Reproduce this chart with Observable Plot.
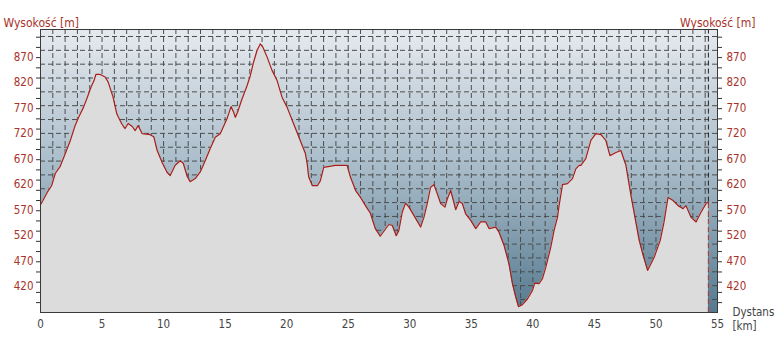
<!DOCTYPE html>
<html>
<head>
<meta charset="utf-8">
<script src="https://cdn.jsdelivr.net/npm/d3@7"></script>
<script src="https://cdn.jsdelivr.net/npm/@observablehq/plot@0.6"></script>
<style>
  html, body { margin: 0; padding: 0; background: #fff; }
</style>
</head>
<body>
<div id="chart"></div>
<script>
// Distance along the route [km]
const distanceKm = [
  0,0.2,0.6,0.9,1.2,1.6,2.0,2.4,2.8,3.1,
  3.5,3.8,4.1,4.35,4.5,4.85,5.25,5.5,5.9,6.2,
  6.33,6.63,6.87,7.12,7.45,7.69,7.93,8.26,8.9,9.2,
  9.48,9.89,10.29,10.54,10.94,11.35,11.6,11.92,12.16,12.57,
  12.98,13.38,13.79,14.2,14.6,15.15,15.48,15.69,15.83,16.01,
  16.37,16.78,17.05,17.31,17.59,17.86,18.08,18.41,18.81,19.22,
  19.63,20.03,20.57,21.11,21.52,21.66,21.79,22.09,22.5,22.74,
  23.01,23.96,24.91,25.18,25.59,26.0,26.4,26.8,27.2,27.6,
  28.3,28.58,28.9,29.11,29.39,29.66,29.93,30.33,30.88,31.15,
  31.42,31.69,31.96,32.24,32.51,32.86,33.05,33.32,33.54,33.73,
  34.0,34.27,34.54,34.95,35.36,35.76,36.17,36.44,36.98,37.25,
  37.66,38.06,38.34,38.61,38.83,39.15,39.56,39.97,40.15,40.5,
  40.78,41.05,41.46,41.72,42.0,42.13,42.41,42.81,43.22,43.49,
  43.76,43.9,44.3,44.71,45.12,45.53,45.93,46.26,46.75,47.15,
  47.56,47.97,48.37,48.64,48.92,49.32,49.86,50.35,50.65,50.98,
  51.39,51.8,52.2,52.44,52.85,53.26,53.66,54.07,54.26
];
// Elevation [m]
const elevationM = [
  581,589,607,618,642,656,680,705,735,752,
  772,791,811,824,836,836,831,821,791,759,
  752,738,730,740,734,726,736,720,718,714,
  687,663,644,638,658,667,662,636,626,632,
  645,667,691,713,720,749,773,762,752,762,
  788,814,834,860,883,896,889,870,844,824,
  791,772,739,706,681,662,635,618,618,628,
  654,658,658,635,609,595,579,564,534,519,
  542,540,520,530,566,584,576,560,537,556,
  583,615,620,602,583,576,592,609,589,571,
  587,583,563,550,534,547,547,534,537,527,
  501,465,426,400,381,385,396,413,427,426,
  436,458,498,530,556,579,620,622,632,651,
  658,658,671,707,720,718,707,677,683,687,
  658,599,546,511,485,452,478,511,546,595,
  589,579,573,579,556,547,566,583,586
];

// Axis content
const xLabels = [0,5,10,15,20,25,30,35,40,45,50,55];
const yLabels = [420,470,520,570,620,670,720,770,820,870];
const yTicks = d3.range(389, 925, 20);
const gridX = d3.range(1, 55, 1);
const gridY = d3.range(0, 20).map(k => 910.4 - 27.12 * k);
const yDomain = [369.6, 924.1];
const axisTitle = "Wysokość [m]";
const distTitle = ["Dystans", "[km]"];

const profile = distanceKm.map((km, i) => ({km, m: elevationM[i]}));
const endPoint = profile[profile.length - 1];

const labelRed = "#a8322a";
const textGray = "#444";
const font = "'DejaVu Sans Condensed', 'DejaVu Sans', sans-serif";

const svg = Plot.plot({
  width: 776,
  height: 338,
  marginLeft: 40,
  marginRight: 59,
  marginTop: 29,
  marginBottom: 26,
  style: {fontFamily: font, fontSize: "11px", color: "#333", background: "#fff", overflow: "visible"},
  x: {domain: [0, 55], axis: null},
  y: {domain: yDomain, axis: "both", ticks: yTicks, tickFormat: () => "", tickSize: 4, label: null},
  marks: [
    Plot.frame({fill: "url(#bgGrad)"}),
    Plot.ruleY(gridY, {stroke: "#4d4d4d", strokeDasharray: "5,3", strokeWidth: 1}),
    Plot.ruleX(gridX, {stroke: "#4d4d4d", strokeDasharray: "5,3", strokeWidth: 1}),
    Plot.areaY(profile, {x: "km", y1: yDomain[0], y2: "m", fill: "#dcdcdc"}),
    Plot.ruleX([endPoint], {x: "km", y1: "m", y2: yDomain[1], stroke: "#222", strokeDasharray: "5,3"}),
    Plot.ruleX([endPoint], {x: "km", y1: yDomain[0], y2: "m", stroke: "#b8342c", strokeDasharray: "5,3"}),
    Plot.line(profile, {x: "km", y: "m", stroke: "#a81e18", strokeWidth: 1.2}),
    Plot.frame({stroke: "#3a3a3a", strokeWidth: 1}),
    // y labels left and right
    Plot.text(yLabels, {y: d => d, text: d => String(d), frameAnchor: "left", dx: -7, textAnchor: "end", fill: labelRed, fontSize: 11.5}),
    Plot.text(yLabels, {y: d => d, text: d => String(d), frameAnchor: "right", dx: 9, textAnchor: "start", fill: labelRed, fontSize: 11.5}),
    // x labels
    Plot.text(xLabels, {x: d => d, text: d => String(d), frameAnchor: "bottom", dy: 15, fill: textGray, fontSize: 11.5}),
    // titles
    Plot.text([axisTitle], {text: d => d, frameAnchor: "top-left", dx: -37, dy: -11, textAnchor: "start", fill: labelRed, fontSize: 12}),
    Plot.text([axisTitle], {text: d => d, frameAnchor: "top-right", dx: 38, dy: -11, textAnchor: "end", fill: labelRed, fontSize: 12}),
    Plot.text([distTitle[0]], {text: d => d, frameAnchor: "bottom-right", dx: 15, dy: 3, textAnchor: "start", fill: textGray, fontSize: 11.5}),
    Plot.text([distTitle[1]], {text: d => d, frameAnchor: "bottom-right", dx: 15, dy: 17, textAnchor: "start", fill: textGray, fontSize: 11.5})
  ]
});

const defs = d3.select(svg).insert("defs", ":first-child");
const grad = defs.append("linearGradient")
  .attr("id", "bgGrad").attr("x1", 0).attr("y1", 0).attr("x2", 0).attr("y2", 1);
grad.append("stop").attr("offset", "0%").attr("stop-color", "#e6eaef");
grad.append("stop").attr("offset", "50%").attr("stop-color", "#a6bac8");
grad.append("stop").attr("offset", "100%").attr("stop-color", "#55798f");

document.getElementById("chart").appendChild(svg);
</script>
</body>
</html>
